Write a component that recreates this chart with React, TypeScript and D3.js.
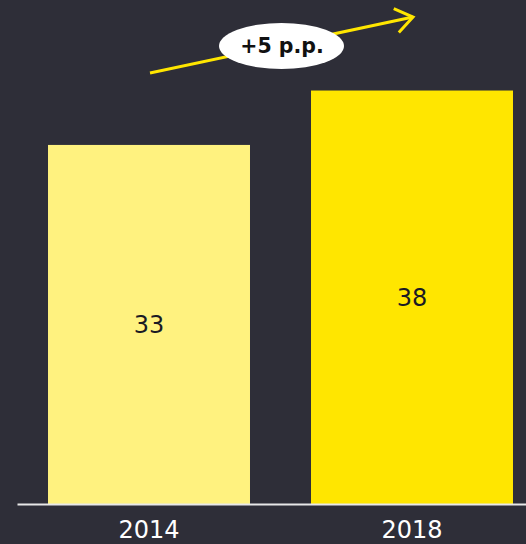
import React from 'react';
import * as d3 from 'd3';

const years = ['2014', '2018'];
const values = [33, 38];
const barColors = ['#FFF27F', '#FFE600'];

const W = 526;
const H = 544;
const BG = '#2E2E38';
const FONT = '"DejaVu Sans", Verdana, sans-serif';

const App: React.FC = () => {
    const baseY = 504;

    const x = d3
        .scaleBand<string>()
        .domain(years)
        .range([17.5, 543.5])
        .paddingInner(0.232)
        .paddingOuter(0.116);

    const y = d3.scaleLinear().domain([0, 46.32]).range([baseY, 0]);

    const bw = x.bandwidth();
    const change = values[1] - values[0];

    // arrow annotation from first to last bar
    const ax0 = (x(years[0]) ?? 0) + bw / 2 + 1;
    const ax1 = (x(years[1]) ?? 0) + bw / 2 + 1;
    const ay0 = 73;
    const ay1 = 17;
    const ang = Math.atan2(ay1 - ay0, ax1 - ax0);
    const headLen = 21;
    const headAng = 0.62;
    const arm = (a: number) => [ax1 - headLen * Math.cos(ang + a), ay1 - headLen * Math.sin(ang + a)];
    const [h1x, h1y] = arm(-headAng);
    const [h2x, h2y] = arm(headAng);

    return (
        <svg width={W} height={H} style={{ display: 'block', position: 'absolute', left: 0, top: 0, background: BG }}>
            <rect width={W} height={H} fill={BG} />
            {years.map((yr, i) => (
                <g key={yr}>
                    <rect
                        x={x(yr)}
                        y={y(values[i])}
                        width={bw}
                        height={baseY - y(values[i])}
                        fill={barColors[i]}
                    />
                    <text
                        x={(x(yr) ?? 0) + bw / 2}
                        y={(y(values[i]) + baseY) / 2}
                        dy="0.36em"
                        textAnchor="middle"
                        fontFamily={FONT}
                        fontSize={24}
                        fill="#1a1a24"
                    >
                        {values[i]}
                    </text>
                    <text
                        x={(x(yr) ?? 0) + bw / 2}
                        y={538}
                        textAnchor="middle"
                        fontFamily={FONT}
                        fontSize={24}
                        fill="#ffffff"
                    >
                        {yr}
                    </text>
                </g>
            ))}
            <line x1={17.5} x2={W} y1={baseY + 0.5} y2={baseY + 0.5} stroke="#e8e8e8" strokeWidth={2} />

            <line x1={ax0} y1={ay0} x2={ax1} y2={ay1} stroke="#FFE600" strokeWidth={3} />
            <polyline
                points={`${h1x},${h1y} ${ax1},${ay1} ${h2x},${h2y}`}
                fill="none"
                stroke="#FFE600"
                strokeWidth={3}
                strokeLinejoin="miter"
            />
            <ellipse cx={281.5} cy={46} rx={62.5} ry={23} fill="#ffffff" />
            <text
                x={282}
                y={46}
                dy="0.36em"
                textAnchor="middle"
                fontFamily={FONT}
                fontSize={20.5}
                fontWeight="bold"
                fill="#111111"
            >
                {`+${change} p.p.`}
            </text>
        </svg>
    );
};

export default App;
